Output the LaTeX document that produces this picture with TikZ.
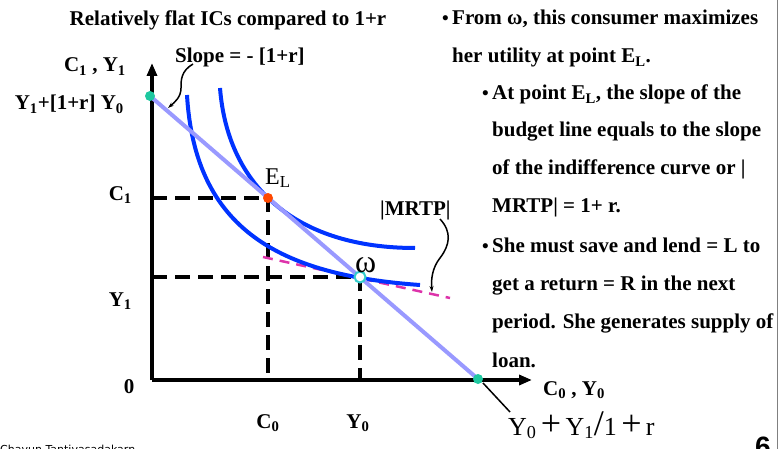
\documentclass[tikz,border=0pt]{standalone}
\usepackage{fontspec}
\setmainfont{Liberation Serif}
\newfontfamily\creditfont{DejaVu Sans}
\newfontfamily\pagefont{Liberation Sans}
\usetikzlibrary{arrows.meta, positioning}
\definecolor{icblue}{RGB}{0,51,255}
\definecolor{budgetline}{RGB}{153,153,255}
\definecolor{endptdot}{RGB}{30,200,160}
\definecolor{eldot}{RGB}{255,72,0}
\definecolor{omegaring}{RGB}{51,204,204}
\definecolor{mrtpline}{RGB}{221,51,170}
\newcommand{\lo}[1]{\textsubscript{#1}}
\newcommand{\bigplus}{\,{\fontsize{36}{36}\selectfont +}\,}

\begin{document}
\begin{tikzpicture}[x=1pt, y=-1pt, >={Triangle[length=13pt,width=10pt]},
    lab/.style={inner sep=0pt, font=\fontsize{21}{25}\selectfont\bfseries},
    bull/.style={inner sep=0pt, font=\fontsize{19}{20}\selectfont\bfseries},
    dot/.style={circle, inner sep=0pt, minimum size=10pt},
    guide/.style={line width=3.2pt, dash pattern=on 15pt off 8pt},
    ic/.style={icblue, line width=4pt},
    pointer/.style={line width=1.5pt, -{Stealth[length=6pt,width=4pt]}}]
    \useasboundingbox (0,0) rectangle (778,449);
    \draw[gray, line width=1pt] (777,0) -- (777,449);

    % Axes
    \coordinate (O) at (152,380);
    \draw[line width=3.5pt, ->] (O) -- (152,63) coordinate (ytop);
    \draw[line width=3.5pt, ->] (O) -- (532,380) coordinate (xend);

    % Points on the budget line
    \coordinate (budtop) at (150,96);
    \coordinate (budend) at (478,379);
    \coordinate (ELpt) at (268,198);
    \coordinate (Wpt) at (360,277);

    % Dashed guides
    \draw[guide] (ELpt -| O) -- (ELpt) -- (ELpt |- O);
    \draw[guide] (Wpt -| O) -- (Wpt) -- (Wpt |- O);

    % MRTP tangent and indifference curves
    \draw[mrtpline, line width=2.5pt, dash pattern=on 10pt off 7pt] (263,257) -- (450,298);
    \draw[ic] (187,95) .. controls (195,230) and (280,275) .. (420,285);
    \draw[ic] (220,88) .. controls (228,190) and (300,248) .. (415,248);

    % Budget line
    \draw[budgetline, line width=4pt] (budtop) -- (budend);
    \node[dot, fill=endptdot] (A) at (budtop) {};
    \node[dot, fill=endptdot] (B) at (budend) {};
    \node[dot, fill=eldot] (EL) at (ELpt) {};
    \node[dot, draw=omegaring, line width=2pt, fill=white, minimum size=11pt] (W) at (Wpt) {};

    % Axis labels
    \node[lab, anchor=base] (title) at (228,26) {Relatively flat ICs compared to 1+r};
    \node[lab, anchor=base east] (yaxis) at (126,72) {C\lo1 , Y\lo1};
    \node[lab, anchor=base east] (ymax) at (124,110) {Y\lo1+[1+r] Y\lo0};
    \node[lab, anchor=base west] (slope) at (175,63) {Slope = - [1+r]};
    \node[lab, anchor=base east] (c1lab) at (132,200) {C\lo1};
    \node[lab, anchor=base east] (y1lab) at (132,306) {Y\lo1};
    \node[lab, anchor=base] (zero) at (129,393) {0};
    \node[lab, anchor=base] (c0lab) at (268,428) {C\lo0};
    \node[lab, anchor=base] (y0lab) at (358,428) {Y\lo0};
    \node[lab, anchor=base west] (xaxis) at (543,395) {C\lo0 , Y\lo0};

    % Point labels
    \node[inner sep=0pt, font=\fontsize{24}{28}\selectfont, anchor=base west] (ellab) at (265,184) {E\lo{L}};
    \node[inner sep=0pt, font=\fontsize{32}{34}\selectfont, anchor=base west] (omlab) at (355,272) {ω};
    \node[lab, anchor=base west] (mrtp) at (380,215) {|MRTP|};
    \node[inner sep=0pt, font=\fontsize{26}{30}\selectfont, anchor=base west] (wealth) at (508,435)
        {Y\lo0\bigplus Y\lo1{\fontsize{36}{36}\selectfont/}1\bigplus r};

    % Pointers
    \coordinate (slopetip) at (168,108);
    \coordinate (mrtptip) at (432,292);
    \coordinate (wealthtip) at (510,412);
    \draw[pointer] ([xshift=18pt, yshift=-1pt]slope.base west) .. controls (181,71) and (181,80) .. (181,88)
        .. controls (181,97) and (175,102) .. (slopetip);
    \draw[pointer] ([xshift=60pt, yshift=-4pt]mrtp.base west) .. controls (452,232) and (450,245) .. (440,258)
        .. controls (432,268) and (431,280) .. (mrtptip);
    \draw[line width=1.5pt] ([xshift=5pt, yshift=-4pt]B.center) -- (wealthtip);

    % Text on the right
    \node[lab, anchor=base west] (l1) at (452,25) {From ω, this consumer maximizes};
    \node[lab, anchor=base west] (l2) at (452,63) {her utility at point E\lo{L}.};
    \node[lab, anchor=base west] (l3) at (492,100) {At point E\lo{L}, the slope of the};
    \node[lab, anchor=base west] (l4) at (492,137) {budget line equals to the slope};
    \node[lab, anchor=base west] (l5) at (492,175) {of the indifference curve or |};
    \node[lab, anchor=base west] (l6) at (492,212) {MRTP| = 1+ r.};
    \node[lab, anchor=base west] (l7) at (492,252) {She must save and lend = L to};
    \node[lab, anchor=base west] (l8) at (492,290) {get a return = R in the next};
    \node[lab, anchor=base west] (l9) at (492,328) {period. She generates supply of};
    \node[lab, anchor=base west] (l10) at (492,367) {loan.};
    \node[bull, anchor=base east] (b1) at ([xshift=-3pt]l1.base west) {•};
    \node[bull, anchor=base east] (b2) at ([xshift=-3pt]l3.base west) {•};
    \node[bull, anchor=base east] (b3) at ([xshift=-3pt]l7.base west) {•};

    % Footer
    \node[inner sep=0pt, font=\creditfont\fontsize{11}{13}\selectfont, anchor=base west] (credit) at (0,453) {Chayun Tantivasadakarn};
    \node[inner sep=0pt, font=\pagefont\bfseries\fontsize{28}{30}\selectfont, anchor=base east] (pageno) at (771,456) {6};
\end{tikzpicture}
\end{document}
